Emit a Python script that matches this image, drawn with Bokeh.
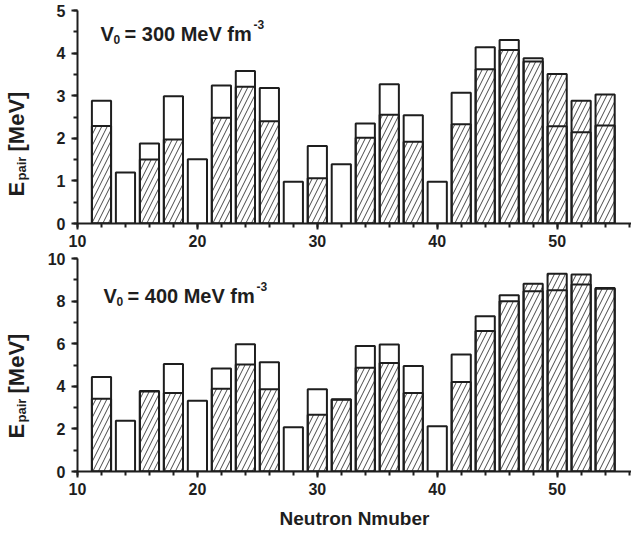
import math
from bokeh.plotting import figure
from bokeh.layouts import column, row
from bokeh.models import FixedTicker
from bokeh.core.properties import value
from bokeh.embed import file_html
from bokeh.resources import INLINE

# ---------------- data ----------------
neutrons = [12, 14, 16, 18, 20, 22, 24, 26, 28, 30, 32, 34, 36, 38, 40, 42, 44, 46, 48, 50, 52, 54]

open_300 = [2.88, 1.20, 1.88, 2.99, 1.51, 3.24, 3.58, 3.18, 0.98, 1.82, 1.39,
            2.35, 3.27, 2.54, 0.98, 3.07, 4.14, 4.31, 3.88, 2.28, 2.14, 2.30]
hatch_300 = [2.29, None, 1.50, 1.97, None, 2.48, 3.21, 2.40, None, 1.06, None,
             2.01, 2.55, 1.92, None, 2.33, 3.62, 4.07, 3.80, 3.51, 2.88, 3.03]

open_400 = [4.44, 2.38, 3.78, 5.05, 3.32, 4.84, 5.97, 5.13, 2.08, 3.86, 3.37,
            5.89, 5.96, 4.95, 2.13, 5.49, 7.29, 8.28, 8.46, 8.51, 8.78, 8.58]
hatch_400 = [3.42, None, 3.76, 3.68, None, 3.89, 5.02, 3.86, None, 2.66, 3.39,
             4.87, 5.09, 3.68, None, 4.20, 6.60, 7.99, 8.82, 9.28, 9.25, 8.62]

x_major = [10, 20, 30, 40, 50]
x_minor = list(range(10, 57, 2))

FONT = "Liberation Sans"
INK = "#1e1e1e"
FRAME_W = 554
FRAME_H = 213
X_END = 56.2
LABEL_W = 40


def label_strip(height, e_y):
    """Narrow strip carrying the rotated y-axis title E_pair [MeV]."""
    s = figure(frame_width=LABEL_W, frame_height=height, x_range=(0, LABEL_W), y_range=(0, height),
               x_axis_type=None, y_axis_type=None, output_backend="svg", toolbar_location=None,
               min_border_left=0, min_border_right=0, min_border_top=0, min_border_bottom=0)
    s.outline_line_color = None
    s.xgrid.visible = False
    s.ygrid.visible = False
    pieces = [("E", 16, e_y, "22px"), ("pair", 21, e_y - 16, "13px"), ("[MeV]", 16, e_y - 45, "22px")]
    for txt, x, y, size in pieces:
        s.text(x=[x], y=[height - y], text=[txt], angle=math.pi / 2,
               text_font=value(FONT), text_font_style="bold", text_font_size=size,
               text_color=INK, text_align="left", text_baseline="alphabetic")
    return s


def make_panel(open_vals, hatch_vals, ymax, ymajor, yminor, potential, top_border, bottom_border,
               v_pos, show_xlabel):
    p = figure(frame_width=FRAME_W, frame_height=FRAME_H,
               x_range=(10, X_END), y_range=(0, ymax),
               output_backend="svg", toolbar_location=None,
               min_border_left=77 - LABEL_W, min_border_right=0,
               min_border_top=top_border, min_border_bottom=bottom_border)
    p.outline_line_color = None
    p.xgrid.visible = False
    p.ygrid.visible = False

    hx = [n for n, h in zip(neutrons, hatch_vals) if h is not None]
    hy = [h for h in hatch_vals if h is not None]
    p.vbar(x=hx, top=hy, bottom=0, width=1.6, fill_color="white",
           hatch_pattern="right_diagonal_line", hatch_color="#333333",
           hatch_scale=11, hatch_weight=0.9,
           line_color=INK, line_width=2)
    p.vbar(x=neutrons, top=open_vals, bottom=0, width=1.6, fill_alpha=0,
           line_color=INK, line_width=2)

    for ax in (p.xaxis[0], p.yaxis[0]):
        ax.axis_line_width = 2
        ax.axis_line_color = INK
        ax.major_tick_line_width = 2
        ax.minor_tick_line_width = 2
        ax.major_tick_line_color = INK
        ax.minor_tick_line_color = INK
        ax.major_tick_in = 0
        ax.minor_tick_in = 0
        ax.major_tick_out = 6
        ax.minor_tick_out = 4
        ax.major_label_text_font = FONT
        ax.major_label_text_font_style = "bold"
        ax.major_label_text_font_size = "16px"
        ax.major_label_text_color = INK

    p.xaxis.ticker = FixedTicker(ticks=x_major, minor_ticks=x_minor)
    p.yaxis.ticker = FixedTicker(ticks=ymajor, minor_ticks=yminor)
    p.xaxis.major_label_standoff = 5
    p.yaxis.major_label_standoff = 6

    if show_xlabel:
        p.xaxis.axis_label = "Neutron Nmuber"
        p.xaxis.axis_label_text_font = FONT
        p.xaxis.axis_label_text_font_style = "bold"
        p.xaxis.axis_label_text_font_size = "19px"
        p.xaxis.axis_label_text_color = INK
        p.xaxis.axis_label_standoff = 10

    vx, vy = v_pos
    pieces = [("V", 0, 0, "20px"), ("0", 13, 6, "12px"),
              ("= %d MeV fm" % potential, 24, 0, "20px"), ("-3", 153, -9, "12px")]
    for txt, dx, dy, size in pieces:
        p.text(x=[vx], y=[vy], text=[txt], x_offset=dx, y_offset=dy,
               text_font=value(FONT), text_font_style="bold", text_font_size=size,
               text_color=INK, text_align="left", text_baseline="alphabetic")
    return p


top = make_panel(open_300, hatch_300, 5, [0, 1, 2, 3, 4, 5], [i * 0.5 for i in range(11)], 300,
                 top_border=10, bottom_border=27, v_pos=(11.92, 4.45), show_xlabel=False)
bottom = make_panel(open_400, hatch_400, 10, [0, 2, 4, 6, 8, 10], list(range(11)), 400,
                    top_border=8, bottom_border=60, v_pos=(12.17, 8.26), show_xlabel=True)

top_h = 10 + FRAME_H + 27
bot_h = 8 + FRAME_H + 60
layout = column(row(label_strip(top_h, 186), top, spacing=0),
                row(label_strip(bot_h, 180), bottom, spacing=0), spacing=0)
open("out.html", "w").write(file_html(layout, INLINE))
